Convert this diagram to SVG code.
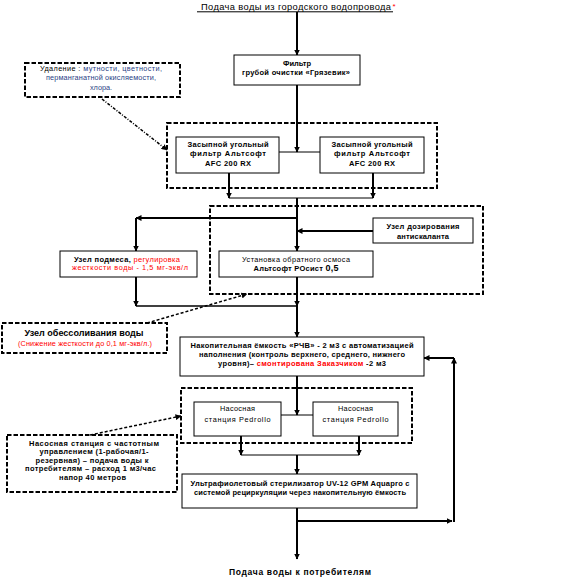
<svg xmlns="http://www.w3.org/2000/svg" width="565" height="579" viewBox="0 0 565 579">
<defs>
<style>
text{font-family:"Liberation Sans",Arial,"Noto Sans",sans-serif;fill:#000;}
.b{font-weight:bold;font-size:7.5px;}
.r{font-size:7.3px;}
.c{text-anchor:middle;}
.red{fill:#ff0000;}
.blu{fill:#2a3f86;}
.box{fill:#fff;stroke:#000;stroke-width:1;}
.dbox{fill:none;stroke:#000;stroke-width:2;stroke-dasharray:4.5 2;}
.ln{fill:none;stroke:#000;stroke-width:2;}
.thin{fill:none;stroke:#000;stroke-width:1;}
.ar{marker-end:url(#ah);}
.dl{fill:none;stroke:#000;stroke-width:1.5;stroke-dasharray:3 2;marker-end:url(#ah);}
.ddl{fill:none;stroke:#000;stroke-width:1.5;stroke-dasharray:3 1.5 1 1.5;marker-end:url(#ah);}
</style>
<marker id="ah" markerUnits="userSpaceOnUse" markerWidth="6" markerHeight="6" refX="5.5" refY="3" orient="auto">
<path d="M0,0 L6,3 L0,6 z" fill="#000"/>
</marker>
</defs>

<g id="connectors">
<line class="ln ar" x1="297" y1="12" x2="297" y2="55"/>
<line class="ln ar" x1="297" y1="85" x2="297" y2="152"/>
<line class="thin" x1="279" y1="152" x2="320" y2="152"/>
<line class="ln ar" x1="229" y1="173" x2="229" y2="198"/>
<line class="ln ar" x1="373" y1="173" x2="373" y2="198"/>
<line class="thin" x1="229" y1="198" x2="373" y2="198"/>
<line class="ln ar" x1="297" y1="198" x2="297" y2="251"/>
<line class="ln ar" x1="297" y1="218" x2="136" y2="218"/>
<line class="ln ar" x1="136" y1="218" x2="136" y2="251"/>
<line class="ln ar" x1="373" y1="231" x2="297" y2="231"/>
<line class="ln ar" x1="136" y1="277" x2="136" y2="306"/>
<line class="thin" x1="136" y1="306" x2="297" y2="306" style="stroke-width:1.5"/>
<line class="ln ar" x1="297" y1="277" x2="297" y2="306"/>
<line class="ln ar" x1="297" y1="306" x2="297" y2="337"/>
<line class="ln ar" x1="297" y1="376" x2="297" y2="415"/>
<line class="thin" x1="281" y1="415" x2="313" y2="415"/>
<line class="ln ar" x1="241" y1="436" x2="241" y2="455"/>
<line class="ln ar" x1="359" y1="436" x2="359" y2="455"/>
<line class="thin" x1="241" y1="455" x2="359" y2="455"/>
<line class="ln ar" x1="297" y1="455" x2="297" y2="474"/>
<line class="ln ar" x1="297" y1="508" x2="297" y2="559"/>
<line class="ln ar" x1="297" y1="521" x2="452" y2="521"/>
<line class="ln ar" x1="454" y1="522" x2="454" y2="358"/>
<line class="ln ar" x1="454" y1="358" x2="424" y2="358"/>
<line class="ddl" x1="102" y1="99" x2="167" y2="150"/>
<line class="dl" x1="147" y1="323" x2="247" y2="294"/>
<line class="dl" x1="90" y1="435" x2="181" y2="416"/>
</g>

<g id="source">
<text x="296" y="9.5" class="c" style="font-size:9.3px" textLength="190">Подача воды из городского водопровода</text>
<text x="392.5" y="9" class="red" style="font-size:8px">*</text>
<line x1="197" y1="11.8" x2="393" y2="11.8" stroke="#000" stroke-width="1"/>
</g>

<g id="filter">
<rect class="box" x="234" y="55" width="126" height="30"/>
<text x="297" y="66" class="b c">Фильтр</text>
<text x="296" y="75" class="b c" textLength="108">грубой очистки «Грязевик»</text>
</g>

<g id="removal-note">
<rect class="dbox" x="25" y="63" width="155" height="34"/>
<text x="101" y="71.3" class="r c" textLength="122">Удаление : <tspan class="blu">мутности, цветности,</tspan></text>
<text x="101" y="80.3" class="r c blu" textLength="110">перманганатной окисляемости,</text>
<text x="101" y="89.5" class="r c blu">хлора.</text>
</g>

<g id="carbon-group">
<rect class="dbox" x="167" y="123" width="270" height="65"/>
</g>
<g id="carbon-1">
<rect class="box" x="176" y="137" width="103" height="36"/>
<text x="228" y="146.5" class="b c" textLength="81">Засыпной угольный</text>
<text x="228" y="156" class="b c" textLength="76">фильтр Альтсофт</text>
<text x="228" y="165.5" class="b c" textLength="46">AFC 200 RX</text>
</g>
<g id="carbon-2">
<rect class="box" x="320" y="137" width="104" height="36"/>
<text x="372" y="146.5" class="b c" textLength="81">Засыпной угольный</text>
<text x="372" y="156" class="b c" textLength="76">фильтр Альтсофт</text>
<text x="372" y="165.5" class="b c" textLength="46">AFC 200 RX</text>
</g>

<g id="ro-group">
<rect class="dbox" x="210" y="206" width="273" height="88"/>
</g>
<g id="antiscalant">
<rect class="box" x="373" y="218" width="100" height="25"/>
<text x="423" y="229.2" class="b c" textLength="73">Узел дозирования</text>
<text x="423" y="239.2" class="b c" textLength="52">антискаланта</text>
</g>
<g id="ro">
<rect class="box" x="219" y="251" width="154" height="26"/>
<text x="296" y="261.5" class="r c" textLength="108">Установка обратного осмоса</text>
<text x="296" y="270.8" class="b c" textLength="85">Альтсофт РОсист <tspan style="font-size:9px">0,5</tspan></text>
</g>
<g id="mixing">
<rect class="box" x="60" y="251" width="137" height="26"/>
<text x="127" y="261.5" class="b c" textLength="106">Узел подмеса, <tspan class="red" style="font-weight:normal">регулировка</tspan></text>
<text x="130" y="270.3" class="r c red" textLength="116">жесткости воды -  1,5 мг-экв/л</text>
</g>

<g id="desalination-note">
<rect class="dbox" x="2" y="323" width="165" height="30"/>
<text x="84" y="336.3" class="c" style="font-size:9px;font-weight:bold" textLength="119">Узел обессоливания воды</text>
<text x="85" y="345.8" class="r c red" textLength="134">(Снижение жесткости до 0,1 мг-экв/л.)</text>
</g>

<g id="tank">
<rect class="box" x="180" y="337" width="244" height="39"/>
<text x="302" y="347.5" class="b c" textLength="223">Накопительная  ёмкость «РЧВ» - 2 м3 с автоматизацией</text>
<text x="302" y="356.5" class="b c" textLength="206">наполнения (контроль верхнего, среднего, нижнего</text>
<text x="302" y="365.8" class="b c" textLength="168">уровня)– <tspan class="red">смонтирована Заказчиком</tspan> -2 м3</text>
</g>

<g id="pump-group">
<rect class="dbox" x="181" y="388" width="231" height="55"/>
</g>
<g id="pump-1">
<rect class="box" x="194" y="402" width="87" height="34"/>
<text x="237.5" y="411" class="r c" textLength="35">Насосная</text>
<text x="237.5" y="421.5" class="r c" textLength="66">станция Pedrollo</text>
</g>
<g id="pump-2">
<rect class="box" x="313" y="402" width="85" height="34"/>
<text x="355.5" y="411" class="r c" textLength="35">Насосная</text>
<text x="355.5" y="421.5" class="r c" textLength="66">станция Pedrollo</text>
</g>

<g id="pump-note">
<rect class="dbox" x="7" y="435" width="170" height="57"/>
<text x="94" y="445.7" class="b c" textLength="130">Насосная станция с частотным</text>
<text x="94" y="454.2" class="b c" textLength="109">управлением (1-рабочая/1-</text>
<text x="92" y="462.7" class="b c" textLength="113">резервная) – подача воды к</text>
<text x="90.5" y="471.2" class="b c" textLength="131">потребителям – расход 1 м3/час</text>
<text x="92.5" y="479.7" class="b c" textLength="67">напор 40 метров</text>
</g>

<g id="uv">
<rect class="box" x="182" y="474" width="235" height="34"/>
<text x="300" y="485.8" class="b c" textLength="219">Ультрафиолетовый стерилизатор UV-12 GPM Aquapro с</text>
<text x="300" y="494.8" class="b c" textLength="212">системой рециркуляции через накопительную ёмкость</text>
</g>

<g id="consumers">
<text x="300" y="574.5" class="c" style="font-size:8.5px;font-weight:bold" textLength="142">Подача воды к потребителям</text>
</g>
</svg>
